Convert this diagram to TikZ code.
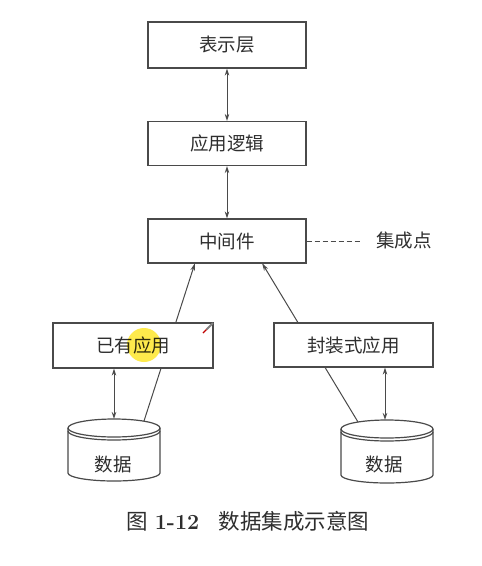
\documentclass[tikz,border=0pt]{standalone}
\usepackage{fontspec}
\newfontfamily\cjk{Noto Sans CJK SC}
\usetikzlibrary{arrows.meta}
\definecolor{linegray}{HTML}{4A4A4A}
\definecolor{txtgray}{HTML}{2E2E2E}
\begin{document}
\begin{tikzpicture}[x=1pt,y=-1pt,
  box/.style={draw=linegray,line width=1.2pt,fill=white,minimum width=158pt,minimum height=45pt,inner sep=0pt,font=\cjk\fontsize{18.5}{18.5}\selectfont,text=txtgray},
  conn/.style={draw=linegray,line width=1pt},
  tipend/.style={-{Stealth[open,length=8pt,width=4.5pt]}},
  bidir/.style={{Stealth[open,length=7pt,width=4.5pt]}-{Stealth[open,length=7pt,width=4.5pt]}},
  cyl/.style={draw=linegray,line width=1.2pt},
  lbl/.style={font=\cjk\fontsize{18.5}{18.5}\selectfont,text=txtgray,inner sep=0pt}]
\useasboundingbox (0,0) rectangle (482,566);
\fill[white] (0,0) rectangle (482,566);

% diagonal connectors (drawn first, hidden behind boxes and cylinders)
\coordinate (l1) at (144,421);
\coordinate (l2) at (195,263);
\coordinate (r1) at (358,422);
\coordinate (r2) at (262,263);
\draw[conn,tipend] (l1) -- (l2);
\draw[conn,tipend] (r1) -- (r2);

% boxes
\node[box,minimum height=46pt] (pres) at (227,45) {表示层};
\node[box,minimum height=44pt] (logic) at (227,143.5) {应用逻辑};
\node[box,minimum height=44pt] (mid) at (227,241) {中间件};
\node[box,minimum width=160pt] (app1) at (133,345.5) {已有应用};
\node[box,minimum width=159pt,minimum height=44pt] (app2) at (353.5,345) {封装式应用};

% highlight circle
\fill[yellow!85!orange!70,blend mode=multiply] (144,345) circle[radius=17pt];
% pencil cursor
\draw[gray,line width=2pt] (206.5,329.5) -- (213,323);
\draw[red!75!black,line width=1.2pt] (203,333) -- (206.5,329.5);

% vertical bidirectional arrows
\draw[conn,bidir] (pres.south) -- (logic.north);
\draw[conn,bidir] (logic.south) -- (mid.north);

% left cylinder
\draw[cyl,fill=white] (68,428) -- (68,473) arc[start angle=180,end angle=360,x radius=46pt,y radius=8pt] -- (160,428);
\draw[cyl,fill=white] (114,428) ellipse[x radius=46pt,y radius=9pt];
\draw[cyl] (68,431) arc[start angle=180,end angle=360,x radius=46pt,y radius=9pt];
\coordinate (c1top) at (114,419);
\node[lbl] (d1) at (113,464) {数据};

% right cylinder
\draw[cyl,fill=white] (341,429) -- (341,475) arc[start angle=180,end angle=360,x radius=46pt,y radius=8pt] -- (433,429);
\draw[cyl,fill=white] (387,429) ellipse[x radius=46pt,y radius=9pt];
\draw[cyl] (341,432) arc[start angle=180,end angle=360,x radius=46pt,y radius=9pt];
\coordinate (c2top) at (385,420);
\node[lbl] (d2) at (384,464) {数据};

% app to data arrows
\draw[conn,bidir] (app1.south -| c1top) -- (c1top);
\draw[conn,bidir] (app2.south -| c2top) -- (c2top);

% integration point
\coordinate (dashend) at (360,241);
\draw[conn,dashed,dash pattern=on 5pt off 3pt] (mid.east) -- (dashend);
\node[lbl,anchor=west] (ip) at (376,241) {集成点};

% caption
\node[inner sep=0pt,text=txtgray,font=\fontsize{21.5}{21.5}\selectfont] (cap) at (248,521) {{\cjk 图} \textbf{1-12}\hspace{0.9em}{\cjk 数据集成示意图}};
\end{tikzpicture}
\end{document}
